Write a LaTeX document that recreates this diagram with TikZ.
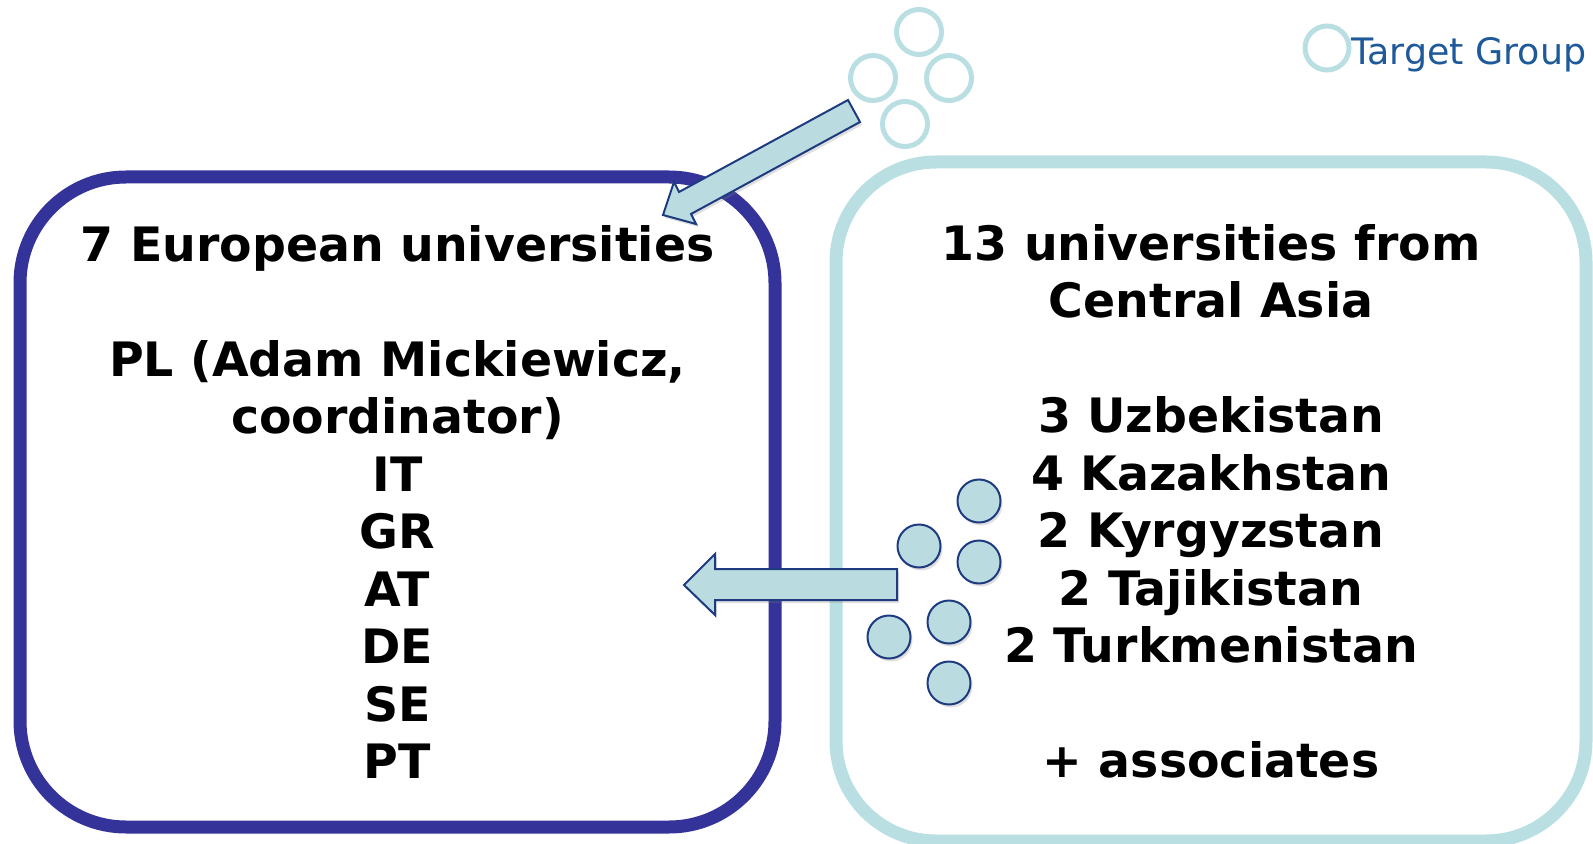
\documentclass[tikz,border=0pt]{standalone}
\usepackage{fontspec}
\setmainfont{DejaVu Sans}
\usetikzlibrary{positioning, shadows}

\definecolor{boxblue}{HTML}{333399}
\definecolor{paleblue}{HTML}{B9DFE3}
\definecolor{arrowfill}{HTML}{BADCE1}
\definecolor{arrowline}{HTML}{1F3B80}
\definecolor{labelblue}{HTML}{1E5A9A}

\begin{document}
\begin{tikzpicture}[x=0.5pt, y=-0.5pt,
	group/.style={draw, line width=6.5pt, rounded corners=53pt, align=center, inner sep=0pt, font=\bfseries\fontsize{23.7}{28.75}\selectfont},
	ring/.style={circle, draw=paleblue, line width=2.5pt, minimum size=22.5pt, inner sep=0pt},
	bead/.style={circle, draw=arrowline, fill=arrowfill, line width=1pt, minimum size=21.5pt, inner sep=0pt, drop shadow={opacity=0.25, shadow xshift=1pt, shadow yshift=-1.5pt}},
	flow/.style={draw=arrowline, fill=arrowfill, line width=1pt, drop shadow={opacity=0.25, shadow xshift=1pt, shadow yshift=-1.5pt}}]
	\useasboundingbox (0,0) rectangle (1593,844);

	% the two groups of universities
	\node (eu) [group, draw=boxblue, minimum width=377.5pt, minimum height=325pt] at (397.5,502) {7 European universities\\[28.75pt]PL (Adam Mickiewicz,\\coordinator)\\IT\\GR\\AT\\DE\\SE\\PT};
	\node (ca) [group, draw=paleblue, rounded corners=50pt, minimum width=375pt, minimum height=339.5pt] at (1211,501.5) {13 universities from\\Central Asia\\[28.75pt]3 Uzbekistan\\4 Kazakhstan\\2 Kyrgyzstan\\2 Tajikistan\\2 Turkmenistan\\[28.75pt]+ associates};

	% legend
	\node (tgring) [ring, minimum size=22pt] at (1327,48) {};
	\node (tg) [anchor=base west, inner sep=0pt, text=labelblue, font=\fontsize{18.2}{20}\selectfont] at (1351,65) {Target Group};

	% target group rings
	\node (r1) [ring] at (919,32) {};
	\node (r2) [ring] at (873,78) {};
	\node (r3) [ring] at (949,78) {};
	\node (r4) [ring] at (905,124) {};

	% block arrows
	\path [flow] (848,100) -- (860,122) -- (691,214) -- (696,224) -- (663,215) -- (674,182) -- (679,192) -- cycle;
	\path [flow] (897,569) -- (897,600) -- (715,600) -- (715,615) -- (684,585) -- (715,554) -- (715,569) -- cycle;

	% beads
	\node (b1) [bead] at (979,501) {};
	\node (b2) [bead] at (919,546) {};
	\node (b3) [bead] at (979,562) {};
	\node (b4) [bead] at (949,622) {};
	\node (b5) [bead] at (889,637) {};
	\node (b6) [bead] at (949,683) {};
\end{tikzpicture}
\end{document}
